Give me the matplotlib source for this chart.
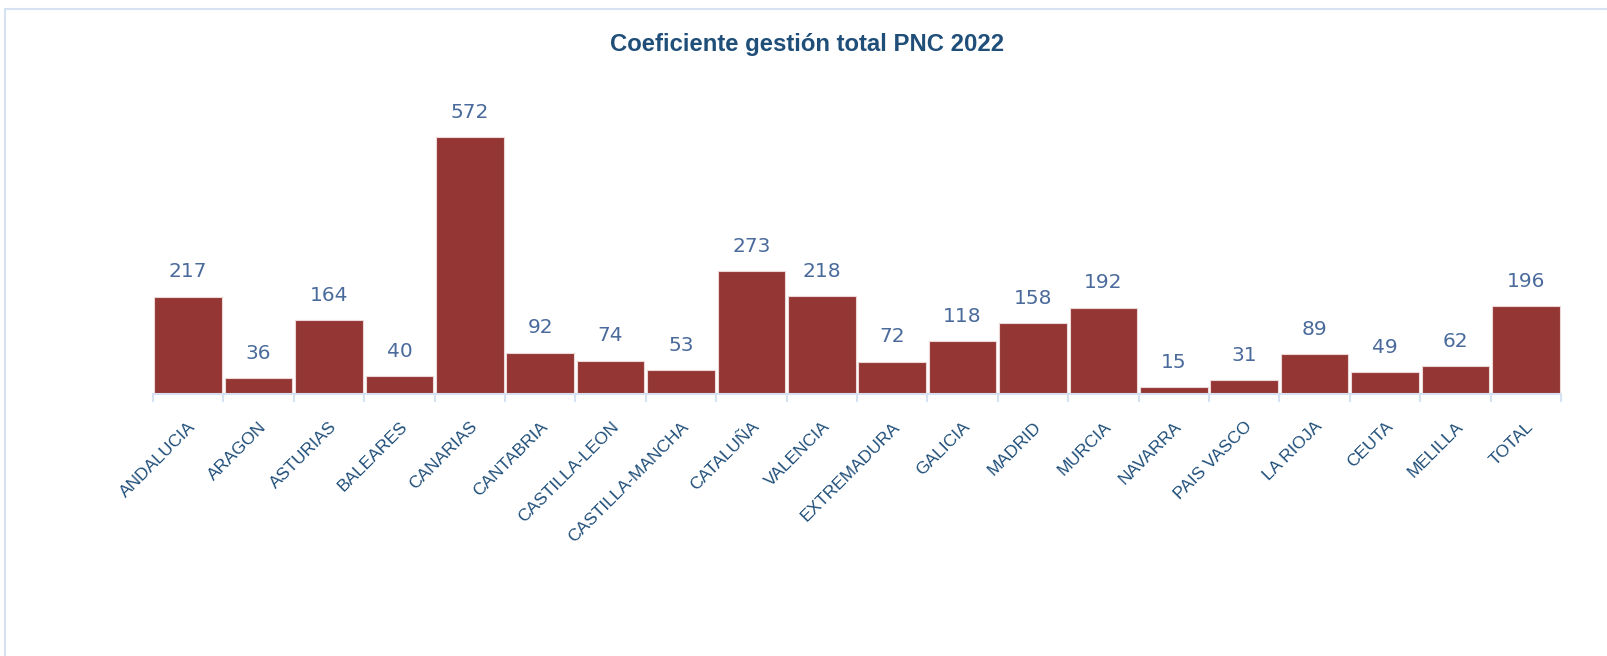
import matplotlib.pyplot as plt
from matplotlib.patches import Rectangle

regiones = ["ANDALUCIA", "ARAGON", "ASTURIAS", "BALEARES", "CANARIAS", "CANTABRIA",
            "CASTILLA-LEON", "CASTILLA-MANCHA", "CATALUÑA", "VALENCIA", "EXTREMADURA",
            "GALICIA", "MADRID", "MURCIA", "NAVARRA", "PAIS VASCO", "LA RIOJA",
            "CEUTA", "MELILLA", "TOTAL"]
coeficiente = [217, 36, 164, 40, 572, 92, 74, 53, 273, 218, 72, 118, 158, 192,
               15, 31, 89, 49, 62, 196]

azul = "#1f4e79"
azul_val = "#4a6a9b"
linea = "#d6e2f1"

fig = plt.figure(figsize=(16.07, 6.56), dpi=100)
# marco exterior
fig.patches.append(Rectangle((5 / 1607, -0.1), 1.2, 1.1 - 9.5 / 656, transform=fig.transFigure,
                             fill=False, edgecolor=linea, linewidth=1.5))

ax = fig.add_axes([153 / 1607, 1 - 394 / 656, (1561 - 153) / 1607, 0.45])
x = list(range(len(regiones)))
ax.bar(x, coeficiente, width=0.96, color="#943634", edgecolor="#ecd6d6", linewidth=0.8)
ax.set_xlim(-0.5, len(regiones) - 0.5)
ax.set_ylim(0, 572 * 0.45 * 656 / 257)

for xi, v in zip(x, coeficiente):
    ax.annotate(str(v), (xi, v), xytext=(0, 11), textcoords="offset points",
                ha="center", va="bottom", fontsize=14.5, color=azul_val,
                family="DejaVu Sans")

for s in ["top", "right", "left"]:
    ax.spines[s].set_visible(False)
ax.spines["bottom"].set_color(linea)
ax.spines["bottom"].set_linewidth(1.5)
ax.set_yticks([])
ax.set_xticks(x)
ax.set_xticklabels(regiones, rotation=45, ha="right", rotation_mode="anchor",
                   fontsize=12.5, color=azul, family="Liberation Sans")
ax.tick_params(axis="x", which="major", length=0, pad=18)
ax.set_xticks([i - 0.5 for i in range(len(regiones) + 1)], minor=True)
ax.tick_params(axis="x", which="minor", length=6, color=linea, width=1.5)

fig.text(0.502, 1 - 44 / 656, "Coeficiente gestión total PNC 2022", ha="center", va="center",
         fontsize=17.2, fontweight="bold", color=azul, family=["Liberation Sans", "DejaVu Sans"])

fig.savefig("out.png", dpi=100)
